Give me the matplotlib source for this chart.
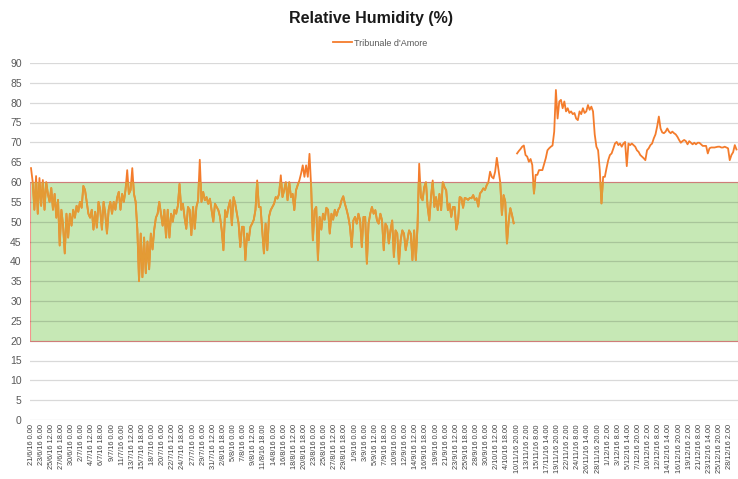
import numpy as np
import matplotlib
matplotlib.use("Agg")
from matplotlib import pyplot as plt

# Relative humidity readings, one value every 9 hours (6 per labelled tick); None = gap in logging
humidity = [
    63.5, 60, 53, 61.5, 52, 61, 54, 60.5, 53, 60,
    57, 55, 58.5, 53, 57, 51, 55.5, 44, 53, 49,
    42, 52, 46, 52, 49, 53, 51, 54, 52.5, 55,
    53.5, 59, 58, 55, 52, 51, 53, 48, 52.5, 48.5,
    55, 53, 48, 55, 52, 47, 53, 55, 52, 55,
    53, 56, 57.5, 53, 57, 55, 58, 63, 57, 58,
    63.5, 57, 55, 48, 35, 47, 36, 46, 37, 45,
    38, 47, 43, 48, 51, 52, 55, 52, 49, 53,
    46, 53, 46, 52, 50, 53, 52, 54,
    59.5, 53, 54.5, 51, 48.2, 53.7, 53, 46.6, 53.7, 48.2,
    53.7, 55.4, 65.6, 55, 57.5, 55.4, 56.2, 54.5, 55.8, 52.9,
    50, 54.5, 53.7, 52.9, 51.2, 47.8, 42.8, 52.9, 51.2, 53.7,
    55.4, 49.1, 56.2, 54.5, 52, 49.5, 43.6, 48.7, 48.7, 40.3,
    47, 45.3, 48.7, 49.5, 50.5, 53, 60.4, 53.7, 53.7, 47.8,
    42, 49.5, 42.8, 51.2, 52.9, 53.7, 54.5, 56.2, 55.8, 57,
    61.7, 56.2, 57.9, 60, 55.4, 60, 56.2, 57, 52.9, 57.9,
    59.2, 60.4, 62.1, 64.2, 61.3, 64.2, 61.3, 67.1, 58.7, 45.3,
    52.9, 53.7, 40.3, 51.2,
    48, 52, 50.5, 53.5, 53, 47, 52, 50.5, 53, 51.5,
    53, 53.7, 55.4, 56.4, 54.5, 53, 51.2, 48.7, 43.6, 50.3,
    51.2, 49.5, 52, 50.3, 43.6, 51.2, 51.2, 39.4, 49.5, 52,
    53.7, 52, 52.9, 50.3, 49.5, 52, 50.3, 42.8, 49.5, 48.7,
    44.5, 47.8, 50.3, 41.1, 47.8, 47, 39.4, 45.3, 47.8, 47,
    42.8, 45.3, 47.8, 47, 40.3, 47.8, 40.3, 48.7, 64.6, 56.2,
    55.4, 58.7, 60, 53.7, 50.3, 56.2, 60.4, 53.7, 56.2, 52.9,
    57, 52.9, 60, 58.7, 57.9, 52.9, 54.5, 51.2, 53.7, 53.7,
    48, 50, 56.2,
    56, 53.5, 56, 55.8, 55.5, 56, 55.9, 56.7, 55.5, 55.9,
    53.8, 57.1, 57.6, 58.4, 58, 59.2, 60, 62.6, 61.3, 60.9,
    62.6, 66.1, 63, 60, 51.7, 56.7, 55, 44.5, 50, 53.4,
    51.7, 49.6,
    None,
    67.2, 67.8, 68.3, 68.9, 69.2, 66.8, 66.4, 65.1, 65.8, 64.3,
    57.1, 61.8, 61.8, 63, 63, 63, 64.5, 66, 68, 68.5,
    68.9, 69.2, 72.7, 83.2, 76, 80.3, 80.7, 78.6, 80.3, 77.8,
    78.6, 77.4, 77.8, 77.1, 77.4, 76, 75.6, 77.8, 77.1, 78.6,
    77.4, 77.8, 79.4, 78.2, 79, 77.8,
    72, 68.9, 68, 63, 54.6, 61.3, 61.3, 63.5, 65.5, 66.8,
    67.2, 68.4, 69.7, 70.1, 69.3, 69.7, 68.9, 69.7, 70.1, 64,
    69.7, 69.3, 69.7, 69.3, 68.9, 68, 67.6, 66.8, 66.4, 66,
    65.5, 68, 68.5, 69.3, 69.7, 71, 72, 74, 76.5, 73.5,
    72.5, 72.3, 72.7, 73.5, 72.7, 72.3, 72.7, 72.3, 72, 71.4,
    70.6, 69.9, 70.3, 70.6, 70.3, 69.5, 70.3, 69.9, 69.5, 69.9,
    69.5, 69.9, 69.9, 69.5, 69.1, 69.1, 69.1, 67.2, 68.5, 68.7,
    68.7, 68.7, 68.8, 68.9, 68.9, 68.7, 68.7, 68.9, 68.7, 68.5,
    65.5, 66.8, 67.5, 69.3, 68.2,
]

tick_labels = [
    "21/6/16 0.00", "23/6/16 6.00", "25/6/16 12.00", "27/6/16 18.00", "30/6/16 0.00",
    "2/7/16 6.00", "4/7/16 12.00", "6/7/16 18.00", "9/7/16 0.00", "11/7/16 6.00",
    "13/7/16 12.00", "15/7/16 18.00", "18/7/16 0.00", "20/7/16 6.00", "22/7/16 12.00",
    "24/7/16 18.00", "27/7/16 0.00", "29/7/16 6.00", "31/7/16 12.00", "2/8/16 18.00",
    "5/8/16 0.00", "7/8/16 6.00", "9/8/16 12.00", "11/8/16 18.00", "14/8/16 0.00",
    "16/8/16 6.00", "18/8/16 12.00", "20/8/16 18.00", "23/8/16 0.00", "25/8/16 6.00",
    "27/8/16 12.00", "29/8/16 18.00", "1/9/16 0.00", "3/9/16 6.00", "5/9/16 12.00",
    "7/9/16 18.00", "10/9/16 0.00", "12/9/16 6.00", "14/9/16 12.00", "16/9/16 18.00",
    "19/9/16 0.00", "21/9/16 6.00", "23/9/16 12.00", "25/9/16 18.00", "28/9/16 0.00",
    "30/9/16 6.00", "2/10/16 12.00", "4/10/16 18.00", "10/11/16 20.00", "13/11/16 2.00",
    "15/11/16 8.00", "17/11/16 14.00", "19/11/16 20.00", "22/11/16 2.00", "24/11/16 8.00",
    "26/11/16 14.00", "28/11/16 20.00", "1/12/16 2.00", "3/12/16 8.00", "5/12/16 14.00",
    "7/12/16 20.00", "10/12/16 2.00", "12/12/16 8.00", "14/12/16 14.00", "16/12/16 20.00",
    "19/12/16 2.00", "21/12/16 8.00", "23/12/16 14.00", "25/12/16 20.00", "28/12/16 2.00",
]
points_per_label = 6

comfort_low, comfort_high = 20, 60
series_name = "Tribunale d'Amore"

# colours
orange = '#F47C2C'
orange_in_band = '#E39B35'
band_fill = '#C6E8B5'
band_edge = '#F4948E'
text_grey = '#595959'

plt.rcParams['font.family'] = ['Liberation Sans', 'DejaVu Sans']

y = np.array([np.nan if v is None else v for v in humidity], dtype=float)
x = np.arange(len(y))

fig = plt.figure(figsize=(7.38, 4.79), dpi=100)
ax = fig.add_axes([30 / 738, 59 / 479, 707.5 / 738, 357 / 479])

band = ax.axhspan(comfort_low, comfort_high, facecolor=band_fill, edgecolor=band_edge,
                  linewidth=0.8, zorder=0.3)

line, = ax.plot(x, y, color=orange, lw=1.3, zorder=3, label=series_name)
line_in, = ax.plot(x, y, color=orange_in_band, lw=1.3, zorder=4)
line_in.set_clip_path(band)

ax.set_xlim(-0.6, len(y) - 0.4)
ax.set_ylim(0, 90)
ax.set_yticks(range(0, 91, 5))
ax.set_xticks(np.arange(len(tick_labels)) * points_per_label)
ax.set_xticklabels(tick_labels, rotation=90, fontsize=5.3, color='#404040')
ax.tick_params(axis='both', length=0)
ax.tick_params(axis='y', labelsize=7.5, labelcolor=text_grey, pad=6)
ax.tick_params(axis='x', pad=3)

ax.set_axisbelow(True)
ax.grid(axis='y', color='black', alpha=0.15, lw=0.9)
for s in ax.spines.values():
    s.set_visible(False)

fig.text(371 / 738, 1 - 18 / 479, 'Relative Humidity (%)', ha='center', va='center',
         fontsize=11.5, fontweight='bold', color='#1a1a1a')
fig.legend(handles=[line], loc='center', bbox_to_anchor=(380 / 738, 1 - 43 / 479),
           frameon=False, fontsize=6.5, handlelength=2.2, handletextpad=0.2,
           labelcolor=text_grey)

fig.savefig('out.png', dpi=100)
